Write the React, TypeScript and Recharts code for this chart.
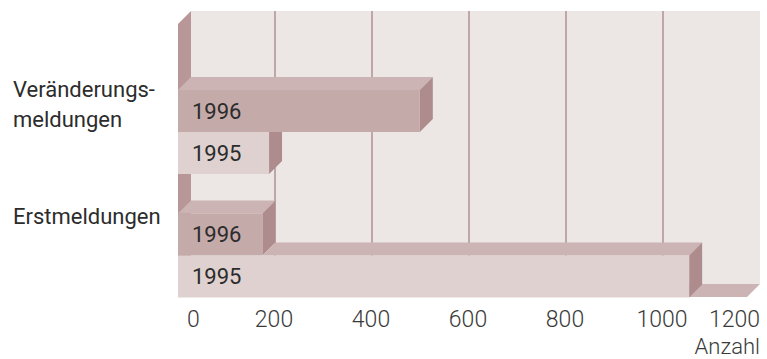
import React from 'react';
import { BarChart, Bar, XAxis, YAxis, CartesianGrid, usePlotArea } from 'recharts';

// Meldungen nach Art und Jahr
const categories = ['Veränderungsmeldungen', 'Erstmeldungen'];
const categoryLines = [['Veränderungs-', 'meldungen'], ['Erstmeldungen']];
const values1996 = [510, 178];
const values1995 = [192, 1078];
const xTicks = [0, 200, 400, 600, 800, 1000, 1200];
const X_MAX = 1200;

const data = categories.map((category, i) => ({
  category,
  y1996: values1996[i],
  y1995: values1995[i],
}));

// chart layout
const W = 767;
const H = 359;
const MARGIN = { top: 24, right: 20, bottom: 26, left: 0 };
const Y_AXIS_W = 178;
const X_AXIS_H = 36;
const PLOT_LEFT = MARGIN.left + Y_AXIS_W;
const PLOT_TOP = MARGIN.top;
const PLOT_W = W - PLOT_LEFT - MARGIN.right;
const PLOT_H = H - MARGIN.top - MARGIN.bottom - X_AXIS_H;

// depth of the pseudo-3D boxes and walls
const D = 13;

const WALL = '#ECE6E4';
const SIDE_WALL = '#B99798';
const GRID = '#B49799';
const TOP = '#CBB4B3';
const SIDE = '#AE8C8D';
const FRONT_1996 = '#C5AAAA';
const FRONT_1995 = '#DED1CF';
const FONT = 'Roboto, "Noto Sans", sans-serif';
const TEXT = '#2c2c2c';

// left wall and floor in front of the back wall
function Frame() {
  const area = usePlotArea();
  if (!area) return null;
  const { x, y, width, height } = area;
  const r = x + width;
  const b = y + height;
  return (
    <g>
      <polygon points={`${x},${y} ${x + D},${y - D} ${x + D},${b - D} ${x},${b}`} fill={SIDE_WALL} />
      <polygon points={`${x},${b} ${r},${b} ${r + D},${b - D} ${x + D},${b - D}`} fill={TOP} />
    </g>
  );
}

// grid lines sit on the back wall, pushed right with growing value
function BackGridLine(props: any) {
  const { x1, y1, y2 } = props;
  const t = (x1 - PLOT_LEFT) / PLOT_W;
  if (t < 0.001 || t > 0.999) return null;
  const gx = x1 + D * t;
  return <line x1={gx} x2={gx} y1={y1} y2={y2} stroke={GRID} strokeWidth={1.6} />;
}

function makeBox(label: string, front: string, coverKey?: string) {
  return (props: any) => {
    const { x, y, width, height, payload, value } = props;
    if (width == null || height == null) return null;
    const x2 = x + width;
    const yb = y + height;
    // the bar drawn above hides the left part of this bar's top face
    let topLeft = x;
    if (coverKey && value) {
      topLeft = Math.max(x, x + (payload[coverKey] / value) * width);
    }
    const covered = topLeft > x2;
    const side = covered
      ? `${x2},${y} ${x2 + D},${y} ${x2 + D},${yb - D} ${x2},${yb}`
      : `${x2},${y} ${x2 + D},${y - D} ${x2 + D},${yb - D} ${x2},${yb}`;
    return (
      <g>
        {!covered && (
          <polygon points={`${topLeft},${y} ${x2},${y} ${x2 + D},${y - D} ${topLeft + D},${y - D}`} fill={TOP} />
        )}
        <polygon points={side} fill={SIDE} />
        <rect x={x} y={y} width={width} height={height} fill={front} />
        <text x={x + 14} y={y + height / 2} dy="0.36em" fontFamily={FONT} fontSize={22} fill={TEXT}>
          {label}
        </text>
      </g>
    );
  };
}

function CategoryTick(props: any) {
  const { y, payload } = props;
  const lines = categoryLines[categories.indexOf(payload.value)] ?? [payload.value];
  const first = y - 31 - (lines.length - 1) * 4;
  return (
    <g>
      {lines.map((line, i) => (
        <text key={line} x={13} y={first + i * 30} fontFamily={FONT} fontSize={22} fill={TEXT}>
          {line}
        </text>
      ))}
    </g>
  );
}

function ValueTick(props: any) {
  const { x, y, payload } = props;
  const v = payload.value as number;
  const bx = x + (D * v) / X_MAX;
  let anchor: 'start' | 'middle' | 'end' = 'middle';
  let tx = bx - 1;
  if (v === 0) {
    anchor = 'start';
    tx = x + 9;
  } else if (v === X_MAX) {
    anchor = 'end';
    tx = bx;
  }
  return (
    <text x={tx} y={y} dy="0.71em" textAnchor={anchor} fontFamily={FONT} fontWeight={300} fontSize={23} fill="#3a3a3a">
      {v}
    </text>
  );
}

function AxisUnit(props: any) {
  const vb = props.viewBox;
  if (!vb) return null;
  return (
    <text x={vb.x + vb.width + D} y={vb.y + 57} textAnchor="end" fontFamily={FONT} fontWeight={300} fontSize={22} fill="#3a3a3a">
      Anzahl
    </text>
  );
}

export default function App() {
  return (
    <div style={{ position: 'absolute', left: 0, top: 0, width: W, height: H, background: '#fff' }}>
      <BarChart
        width={W}
        height={H}
        data={data}
        layout="vertical"
        margin={MARGIN}
        barCategoryGap={20}
        barGap={0}
      >
        <CartesianGrid
          horizontal={false}
          vertical={<BackGridLine />}
          x={PLOT_LEFT + D}
          y={PLOT_TOP - D}
          width={PLOT_W}
          height={PLOT_H}
          fill={WALL}
          fillOpacity={1}
        />
        <Frame />
        <XAxis
          type="number"
          domain={[0, X_MAX]}
          ticks={xTicks}
          height={X_AXIS_H}
          axisLine={false}
          tickLine={false}
          tickSize={0}
          tickMargin={14}
          tick={<ValueTick />}
          label={<AxisUnit />}
        />
        <YAxis
          type="category"
          dataKey="category"
          width={Y_AXIS_W}
          axisLine={false}
          tickLine={false}
          padding={{ top: 46, bottom: -20 }}
          tick={<CategoryTick />}
        />
        <Bar dataKey="y1996" name="1996" isAnimationActive={false} shape={makeBox('1996', FRONT_1996)} />
        <Bar dataKey="y1995" name="1995" isAnimationActive={false} shape={makeBox('1995', FRONT_1995, 'y1996')} />
      </BarChart>
    </div>
  );
}
